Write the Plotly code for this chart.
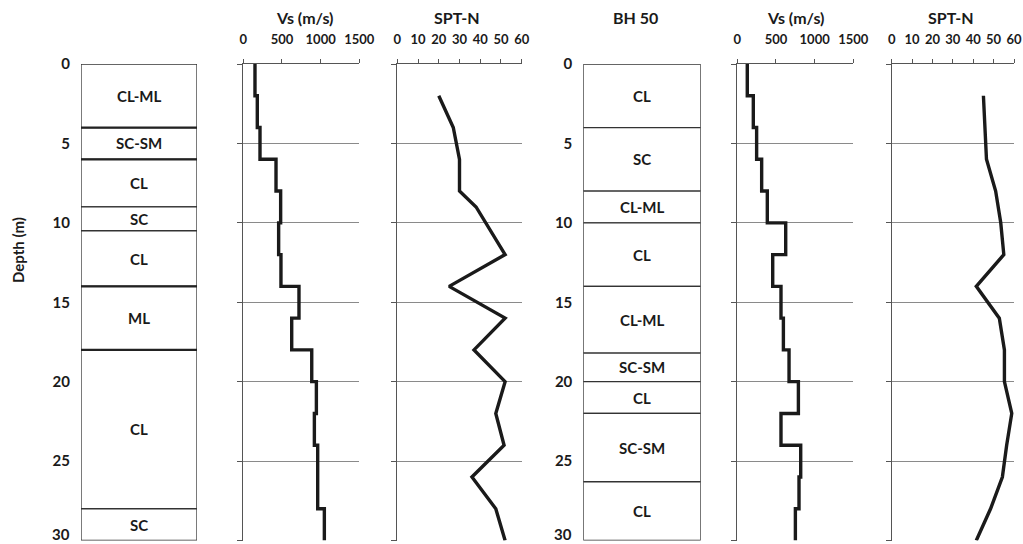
import plotly.graph_objects as go

# ---------------- data ----------------
# Left borehole
left_litho_top = [0, 4, 6, 9, 10.5, 14, 18, 28]
left_litho_bot = [4, 6, 9, 10.5, 14, 18, 28, 30]
left_litho_lbl = ["CL-ML", "SC-SM", "CL", "SC", "CL", "ML", "CL", "SC"]

left_vs_top = [0, 2, 4, 6, 8, 10, 12, 14, 16, 18, 20, 22, 24, 28]
left_vs = [151, 181, 216, 423, 483, 457, 487, 720, 626, 885, 945, 919, 962, 1048]

left_spt_depth = [2, 4, 6, 8, 9, 12, 14, 16, 18, 20, 22, 24, 26, 28, 30]
left_spt = [20, 27, 30, 30, 38, 52, 25, 52, 37, 52, 47.5, 51.5, 36, 47.5, 52]

# Right borehole (BH 50)
right_litho_top = [0, 4, 8, 10, 14, 18.2, 20, 22, 26.3]
right_litho_bot = [4, 8, 10, 14, 18.2, 20, 22, 26.3, 30]
right_litho_lbl = ["CL", "SC", "CL-ML", "CL", "CL-ML", "SC-SM", "CL", "SC-SM", "CL"]

right_vs_top = [0, 2, 4, 6, 8, 10, 12, 14, 16, 18, 20, 22, 24, 26, 28]
right_vs = [129, 207, 250, 315, 388, 626, 458, 565, 596, 669, 790, 565, 820, 798, 751]

right_spt_depth = [2, 4, 6, 8, 10, 12, 14, 16, 18, 20, 22, 24, 26, 28, 30]
right_spt = [45, 45.7, 46.5, 51, 53.5, 55, 41.5, 52.8, 55.3, 55.3, 58.9, 56.4, 54.3, 48.5, 41.5]

depth_ticks = [0, 5, 10, 15, 20, 25, 30]
vs_ticks = [0, 500, 1000, 1500]
spt_ticks = [0, 10, 20, 30, 40, 50, 60]

titles = [("Vs (m/s)", 2), ("SPT-N", 3), ("BH 50", 4), ("Vs (m/s)", 5), ("SPT-N", 6)]

# ---------------- layout helpers ----------------
W, H = 1023, 544
FONT = "Lato"
INK = "#1a1a1a"
AX = "#555555"
GRID = "#8a8a8a"

def px_x(p):
    return p / W

ydom = [1 - 540.5 / H, 1 - 64 / H]
xdoms = [
    [px_x(81), px_x(197)],
    [px_x(243.3), px_x(359.3)],
    [px_x(397.3), px_x(521.7)],
    [px_x(583.3), px_x(700.7)],
    [px_x(737.3), px_x(853.3)],
    [px_x(891.7), px_x(1014)],
]

fig = go.Figure()

def ax_name(i, kind):
    return f"{kind}axis" if i == 1 else f"{kind}axis{i}"

def ref(i, kind):
    return kind if i == 1 else f"{kind}{i}"

layout = {}
for i in range(1, 7):
    dom = xdoms[i - 1]
    if i in (1, 4):
        layout[ax_name(i, "x")] = dict(domain=dom, range=[0, 1], visible=False,
                                       anchor=ref(i, "y"), fixedrange=True, automargin=False)
        layout[ax_name(i, "y")] = dict(domain=ydom, range=[30, 0], anchor=ref(i, "x"),
                                       tickvals=depth_ticks, showgrid=False, zeroline=False,
                                       showline=False, ticks="", ticklabelstandoff=10,
                                       automargin=False,
                                       tickfont=dict(family=FONT, size=15, color=INK, weight="bold"))
    else:
        is_vs = i in (2, 5)
        layout[ax_name(i, "x")] = dict(domain=dom, range=[0, 1500] if is_vs else [0, 60],
                                       tickvals=vs_ticks if is_vs else spt_ticks,
                                       side="top", anchor=ref(i, "y"), showline=True,
                                       linecolor=AX, linewidth=1, ticks="outside", ticklen=4,
                                       tickcolor=AX, showgrid=False, zeroline=False,
                                       ticklabelstandoff=10, automargin=False,
                                       tickfont=dict(family=FONT, size=13, color=INK, weight="bold"))
        layout[ax_name(i, "y")] = dict(domain=ydom, range=[30, 0], anchor=ref(i, "x"),
                                       tickvals=depth_ticks, showticklabels=False,
                                       showline=True, linecolor=AX, linewidth=1,
                                       ticks="outside", ticklen=5, tickcolor=AX,
                                       showgrid=True, gridcolor=GRID, gridwidth=1,
                                       zeroline=False, automargin=False)

# ---------------- traces ----------------
def vs_trace(tops, vals, i):
    return go.Scatter(x=vals + [vals[-1]], y=tops + [30], mode="lines",
                      line=dict(color=INK, width=3.4, shape="vh"),
                      xaxis=ref(i, "x"), yaxis=ref(i, "y"), showlegend=False, hoverinfo="skip")

def spt_trace(depth, vals, i):
    return go.Scatter(x=vals, y=depth, mode="lines",
                      line=dict(color=INK, width=3.4),
                      xaxis=ref(i, "x"), yaxis=ref(i, "y"), showlegend=False, hoverinfo="skip")

fig.add_trace(vs_trace(left_vs_top, left_vs, 2))
fig.add_trace(spt_trace(left_spt_depth, left_spt, 3))
fig.add_trace(vs_trace(right_vs_top, right_vs, 5))
fig.add_trace(spt_trace(right_spt_depth, right_spt, 6))
# invisible traces so the lithology axes render
for i in (1, 4):
    fig.add_trace(go.Scatter(x=[0.5], y=[15], mode="markers", marker=dict(opacity=0),
                             xaxis=ref(i, "x"), yaxis=ref(i, "y"), showlegend=False,
                             hoverinfo="skip"))

# ---------------- lithology columns ----------------
shapes = []
annotations = []
left_edge_w = [2.2, 2.2, 1.2, 1.2, 2.2, 2.2, 1.2, 1.2]
for tops, bots, lbls, i, widths in (
    (left_litho_top, left_litho_bot, left_litho_lbl, 1, left_edge_w),
    (right_litho_top, right_litho_bot, right_litho_lbl, 4, None),
):
    for k, (t, b, l) in enumerate(zip(tops, bots, lbls)):
        shapes.append(dict(type="rect", xref=ref(i, "x"), yref=ref(i, "y"),
                           x0=0, x1=1, y0=t, y1=b, fillcolor="white",
                           line=dict(color="#333333", width=1.3), layer="above"))
        annotations.append(dict(x=0.5, y=(t + b) / 2, xref=ref(i, "x"), yref=ref(i, "y"),
                                text=l, showarrow=False,
                                font=dict(family=FONT, size=15, color=INK, weight="bold")))
    if widths:
        for b, w in zip(bots, widths):
            if w > 1.5:
                shapes.append(dict(type="line", xref=ref(i, "x"), yref=ref(i, "y"),
                                   x0=0, x1=1, y0=b, y1=b,
                                   line=dict(color="#222222", width=w), layer="above"))

# bottom depth label (the axis hides it because it touches the page edge)
for i in (1, 4):
    annotations.append(dict(x=(xdoms[i - 1][0] * W - 10) / W, y=0, xref="paper", yref="paper",
                            text=str(depth_ticks[-1]), showarrow=False,
                            xanchor="right", yanchor="bottom", borderpad=0,
                            font=dict(family=FONT, size=15, color=INK, weight="bold")))

# ---------------- titles ----------------
title_x = {2: 304, 3: 457, 4: 635, 5: 795, 6: 951}
for text, i in titles:
    annotations.append(dict(x=title_x[i] / W, y=1 - 18 / H, xref="paper", yref="paper",
                            text=text, showarrow=False, xanchor="center", yanchor="middle",
                            font=dict(family=FONT, size=16, color=INK, weight="bold")))

annotations.append(dict(x=18 / W, y=1 - 250 / H, xref="paper", yref="paper",
                        text="Depth (m)", textangle=-90, showarrow=False,
                        xanchor="center", yanchor="middle",
                        font=dict(family=FONT, size=15, color=INK, weight="bold")))

fig.update_layout(width=W, height=H, margin=dict(l=0, r=0, t=0, b=0, autoexpand=False),
                  paper_bgcolor="white", plot_bgcolor="white",
                  shapes=shapes, annotations=annotations, **layout)

fig.write_html("out.html")
